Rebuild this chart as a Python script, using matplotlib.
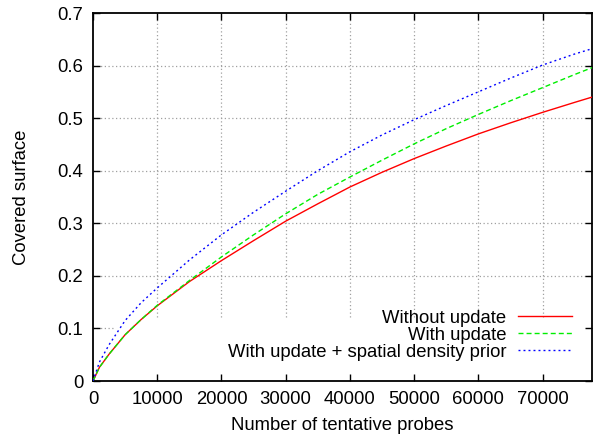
import numpy as np
import matplotlib
matplotlib.use('Agg')
import matplotlib.pyplot as plt

plt.rcParams['font.family'] = ['Liberation Sans', 'DejaVu Sans']

# values
probes = [0, 1000, 2500, 5000, 7500, 10000, 15000, 20000, 25000, 30000, 35000,
          40000, 45000, 50000, 55000, 60000, 65000, 70000, 75000, 77700]
no_update = [0, 0.026, 0.051, 0.088, 0.117, 0.143, 0.189, 0.229, 0.267, 0.304, 0.337,
             0.369, 0.397, 0.423, 0.447, 0.470, 0.491, 0.511, 0.530, 0.540]
with_update = [0, 0.026, 0.051, 0.088, 0.117, 0.144, 0.191, 0.236, 0.278, 0.318, 0.355,
               0.388, 0.420, 0.451, 0.480, 0.507, 0.533, 0.558, 0.583, 0.596]
with_prior = [0, 0.036, 0.069, 0.115, 0.149, 0.177, 0.230, 0.278, 0.321, 0.361, 0.400,
              0.436, 0.468, 0.497, 0.524, 0.550, 0.576, 0.601, 0.622, 0.632]
labels = ['Without update', 'With update', 'With update + spatial density prior']
xticks = [0, 10000, 20000, 30000, 40000, 50000, 60000, 70000]
yticks = [0, 0.1, 0.2, 0.3, 0.4, 0.5, 0.6, 0.7]

fig = plt.figure(figsize=(5.93, 4.37), dpi=100)
ax = fig.add_axes([93/593, 56/437, 499/593, 368/437])
ax.set_xlim(0, 77700)
ax.set_ylim(0, 0.7)

# gnuplot-style grid, cut out where the key sits
key_x, key_y = 0.045, 0.174
gkw = dict(color='#a0a0a0', lw=0.9, dashes=(1, 2), zorder=1)
for t in xticks[1:]:
    ax.axvline(t, ymin=key_y, ymax=1, **gkw)
for t in yticks[1:-1]:
    ax.axhline(t, xmin=0, xmax=key_x if t < 0.12 else 1, **gkw)

ax.plot(probes, no_update, color='#ff0000', lw=1.0, label=labels[0], zorder=3)
ax.plot(probes, with_update, color='#00ee00', lw=1.0, dashes=(3.6, 2.2), label=labels[1], zorder=3)
ax.plot(probes, with_prior, color='#0000ff', lw=1.0, dashes=(1.4, 2.2), label=labels[2], zorder=3)

ax.set_xticks(xticks)
ax.set_yticks(yticks)
ax.set_yticklabels(['0', '0.1', '0.2', '0.3', '0.4', '0.5', '0.6', '0.7'])
ax.tick_params(direction='in', length=5, width=1, labelsize=13.3, top=True, right=True, pad=7)
for s in ax.spines.values():
    s.set_linewidth(1.3)

ax.set_xlabel('Number of tentative probes', fontsize=13.3, labelpad=7)
ax.set_ylabel('Covered surface', fontsize=13.3, labelpad=20)

ax.legend(loc='lower right', bbox_to_anchor=(0.985, 0.02), frameon=False, markerfirst=False,
          fontsize=13.3, handlelength=2.9, handletextpad=0.65, labelspacing=0.0,
          borderpad=0.2)

fig.savefig('out.png', dpi=100)
